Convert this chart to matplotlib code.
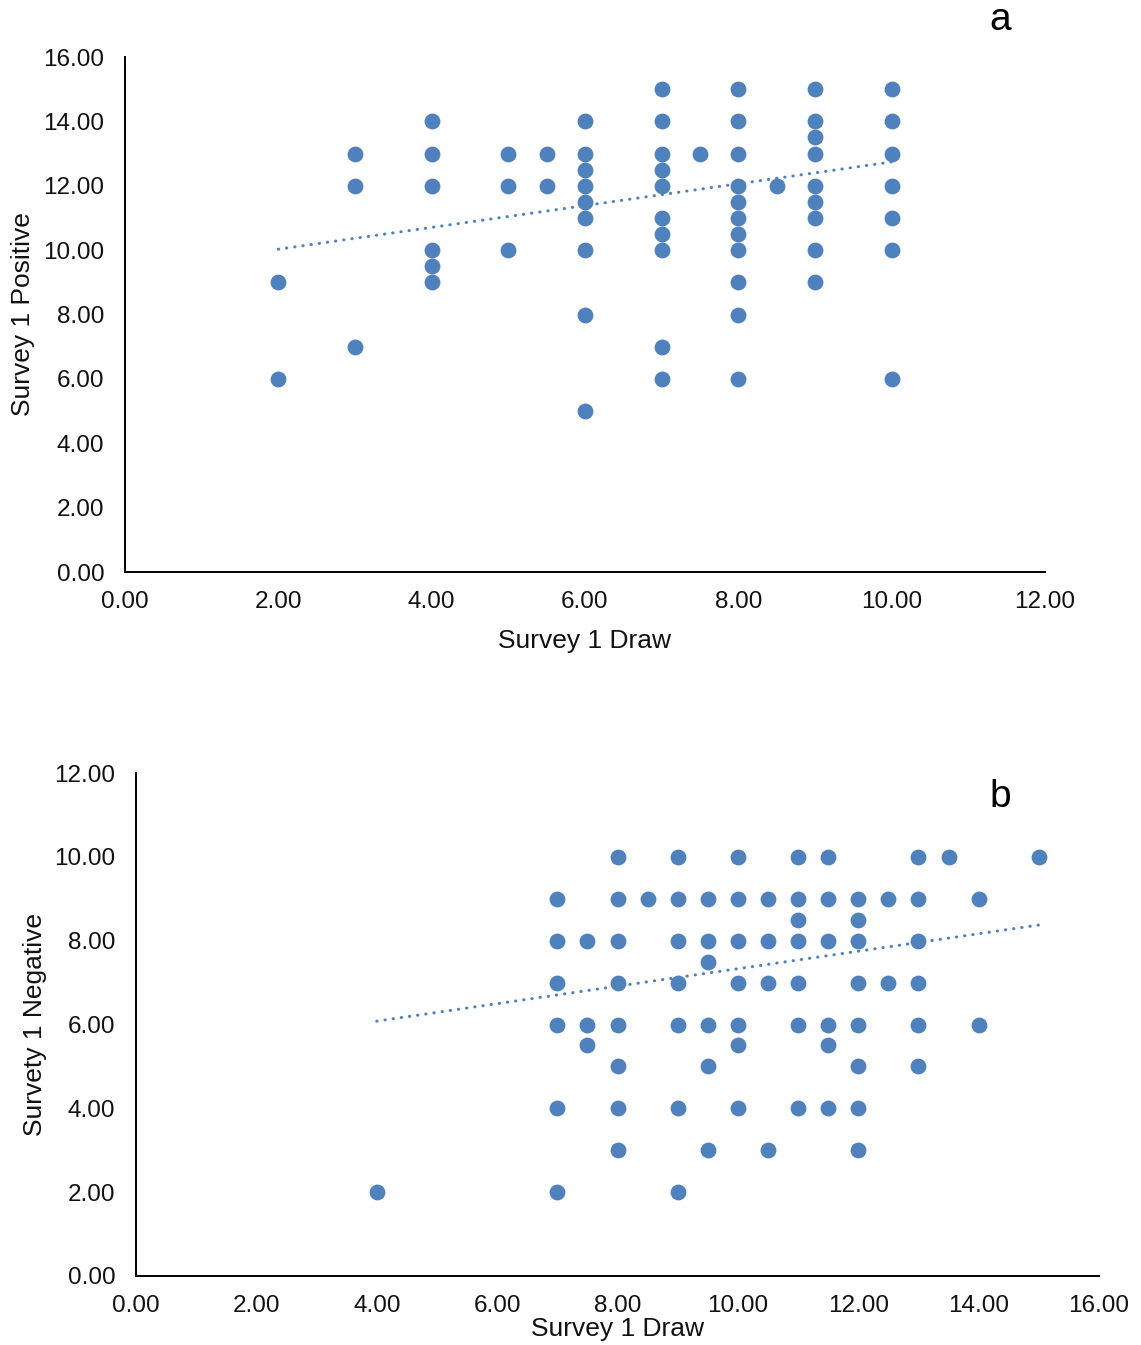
import matplotlib.pyplot as plt
import numpy as np

plt.rcParams['font.family'] = ['Liberation Sans', 'DejaVu Sans']

# ---- panel a: Survey 1 Draw vs Survey 1 Positive
draw_a = [2, 2,
          3, 3, 3,
          4, 4, 4, 4, 4, 4,
          5, 5, 5,
          5.5, 5.5,
          6, 6, 6, 6, 6, 6, 6, 6, 6,
          7, 7, 7, 7, 7, 7, 7, 7, 7, 7,
          7.5,
          8, 8, 8, 8, 8, 8, 8, 8, 8, 8, 8,
          8.5,
          9, 9, 9, 9, 9, 9, 9, 9, 9,
          10, 10, 10, 10, 10, 10, 10]
positive_a = [9, 6,
              13, 12, 7,
              14, 13, 12, 10, 9.5, 9,
              13, 12, 10,
              13, 12,
              14, 13, 12.5, 12, 11.5, 11, 10, 8, 5,
              15, 14, 13, 12.5, 12, 11, 10.5, 10, 7, 6,
              13,
              15, 14, 13, 12, 11.5, 11, 10.5, 10, 9, 8, 6,
              12,
              15, 14, 13.5, 13, 12, 11.5, 11, 10, 9,
              15, 14, 13, 12, 11, 10, 6]
trend_a = (0.339, 9.35)      # slope, intercept
trend_a_span = (2, 10)

# ---- panel b: Survey 1 Draw vs Survety 1 Negative
draw_b = [4,
          7, 7, 7, 7, 7, 7,
          7.5, 7.5, 7.5,
          8, 8, 8, 8, 8, 8, 8, 8,
          8.5,
          9, 9, 9, 9, 9, 9, 9,
          9.5, 9.5, 9.5, 9.5, 9.5, 9.5,
          10, 10, 10, 10, 10, 10, 10,
          10.5, 10.5, 10.5, 10.5,
          11, 11, 11, 11, 11, 11, 11,
          11.5, 11.5, 11.5, 11.5, 11.5, 11.5,
          12, 12, 12, 12, 12, 12, 12, 12,
          12.5, 12.5,
          13, 13, 13, 13, 13, 13,
          13.5,
          14, 14,
          15]
negative_b = [2,
              9, 8, 7, 6, 4, 2,
              8, 6, 5.5,
              10, 9, 8, 7, 6, 5, 4, 3,
              9,
              10, 9, 8, 7, 6, 4, 2,
              9, 8, 7.5, 6, 5, 3,
              10, 9, 8, 7, 6, 5.5, 4,
              9, 8, 7, 3,
              10, 9, 8.5, 8, 7, 6, 4,
              10, 9, 8, 6, 5.5, 4,
              9, 8.5, 8, 7, 6, 5, 4, 3,
              9, 7,
              10, 9, 8, 7, 6, 5,
              10,
              9, 6,
              10]
trend_b = (0.2085, 5.246)
trend_b_span = (4, 15)

blue = '#4f81bd'
W, H = 1141, 1345
fig = plt.figure(figsize=(W / 100, H / 100), dpi=100)

ax1 = fig.add_axes([125 / W, 1 - 572 / H, 920 / W, 515 / H])
ax2 = fig.add_axes([136 / W, 1 - 1276 / H, 963 / W, 503 / H])


def style(ax, xmax, ymax, xlabel, ylabel):
    ax.set_xlim(0, xmax)
    ax.set_ylim(0, ymax)
    ax.set_xticks(np.arange(0, xmax + 1, 2))
    ax.set_yticks(np.arange(0, ymax + 1, 2))
    ax.xaxis.set_major_formatter(lambda v, p: f'{v:.2f}')
    ax.yaxis.set_major_formatter(lambda v, p: f'{v:.2f}')
    for s in ['top', 'right']:
        ax.spines[s].set_visible(False)
    for s in ['left', 'bottom']:
        ax.spines[s].set_linewidth(1.4)
        ax.spines[s].set_color('black')
    ax.tick_params(length=0, labelsize=17.5, colors='#111111')
    ax.tick_params(axis='y', pad=15)
    ax.tick_params(axis='x', pad=14)
    ax.set_xlabel(xlabel, fontsize=19, color='#111111')
    ax.set_ylabel(ylabel, fontsize=19, color='#111111')


def trend(ax, coef, span):
    xs = np.array(span, dtype=float)
    ax.plot(xs, coef[0] * xs + coef[1], color=blue, lw=2.2,
            linestyle=(0, (0.1, 2.6)), dash_capstyle='round', zorder=3)


# Plot for panel a
ax1.scatter(draw_a, positive_a, s=130, color=blue, linewidths=0, zorder=2)
trend(ax1, trend_a, trend_a_span)
style(ax1, 12, 16, 'Survey 1 Draw', 'Survey 1 Positive')
ax1.xaxis.labelpad = 11
ax1.yaxis.labelpad = 6

# Plot for panel b
ax2.scatter(draw_b, negative_b, s=130, color=blue, linewidths=0, zorder=2)
trend(ax2, trend_b, trend_b_span)
style(ax2, 16, 12, 'Survey 1 Draw', 'Survety 1 Negative')
ax2.xaxis.labelpad = 0
ax2.yaxis.labelpad = 5

fig.text(1000 / W, 1 - 20 / H, 'a', fontsize=28, ha='center', va='center')
fig.text(1000 / W, 1 - 797 / H, 'b', fontsize=28, ha='center', va='center')

plt.savefig('out.png', dpi=100)
